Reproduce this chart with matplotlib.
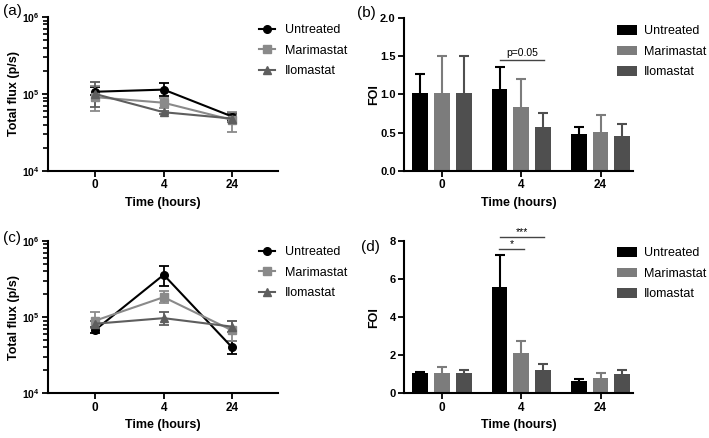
import matplotlib
matplotlib.use("Agg")
import matplotlib.pyplot as plt
from matplotlib.lines import Line2D
from matplotlib.ticker import LogLocator, NullFormatter
import numpy as np

plt.rcParams['font.family'] = ['Liberation Sans', 'DejaVu Sans']
plt.rcParams['mathtext.fontset'] = 'custom'
plt.rcParams['mathtext.rm'] = 'Liberation Sans:bold'
plt.rcParams['mathtext.bf'] = 'Liberation Sans:bold'
plt.rcParams['mathtext.default'] = 'bf'

# ---------------- data ----------------
groups = ["Untreated", "Marimastat", "Ilomastat"]
time_labels = ["0", "4", "24"]

# Panel (a): total flux (p/s), mean and lower/upper error ends
a_untreated = [1.07e5, 1.14e5, 5.1e4]
a_untreated_lo = [9.6e4, 9.4e4, 4.6e4]
a_untreated_hi = [1.22e5, 1.38e5, 5.7e4]
a_marimastat = [9.1e4, 7.7e4, 4.6e4]
a_marimastat_lo = [6.06e4, 6.6e4, 3.2e4]
a_marimastat_hi = [1.28e5, 8.9e4, 5.9e4]
a_ilomastat = [1.0e5, 5.8e4, 4.8e4]
a_ilomastat_lo = [6.8e4, 5.5e4, 4.3e4]
a_ilomastat_hi = [1.42e5, 6.1e4, 5.5e4]

# Panel (b): FOI, mean and upper error end
b_untreated = [1.01, 1.07, 0.48]
b_untreated_hi = [1.26, 1.36, 0.57]
b_marimastat = [1.01, 0.84, 0.51]
b_marimastat_hi = [1.50, 1.20, 0.73]
b_ilomastat = [1.01, 0.57, 0.46]
b_ilomastat_hi = [1.50, 0.75, 0.61]

# Panel (c): total flux (p/s)
c_untreated = [6.8e4, 3.6e5, 4.0e4]
c_untreated_lo = [6.2e4, 2.6e5, 3.3e4]
c_untreated_hi = [7.5e4, 4.7e5, 4.9e4]
c_marimastat = [9.0e4, 1.83e5, 6.7e4]
c_marimastat_lo = [7.2e4, 1.55e5, 4.8e4]
c_marimastat_hi = [1.16e5, 2.2e5, 8.8e4]
c_ilomastat = [8.2e4, 9.7e4, 7.5e4]
c_ilomastat_lo = [7.4e4, 7.9e4, 6.4e4]
c_ilomastat_hi = [9.0e4, 1.16e5, 9.0e4]

# Panel (d): FOI
d_untreated = [1.05, 5.6, 0.66]
d_untreated_hi = [1.12, 7.28, 0.75]
d_marimastat = [1.05, 2.1, 0.80]
d_marimastat_hi = [1.40, 2.75, 1.05]
d_ilomastat = [1.05, 1.25, 1.0]
d_ilomastat_hi = [1.25, 1.55, 1.22]

line_colors = ["#000000", "#8a8a8a", "#5e5e5e"]
line_markers = ["o", "s", "^"]
bar_colors = ["#000000", "#7c7c7c", "#4f4f4f"]

W, H = 709, 438
fig = plt.figure(figsize=(W / 100, H / 100), dpi=100)


def rect(l, r, t, b):
    return [l / W, 1 - b / H, (r - l) / W, (b - t) / H]


def style(ax, ylab_size):
    for s in ["top", "right"]:
        ax.spines[s].set_visible(False)
    for s in ["left", "bottom"]:
        ax.spines[s].set_linewidth(1.5)
    ax.tick_params(axis="both", which="major", length=4, width=1.3,
                   direction="out", pad=2)
    ax.tick_params(axis="x", which="major", labelsize=8.5)
    ax.tick_params(axis="y", which="major", labelsize=ylab_size)
    ax.tick_params(axis="y", which="minor", length=3.5, width=1.2)
    for lab in ax.get_xticklabels() + ax.get_yticklabels():
        lab.set_fontweight("bold")


def line_panel(ax, means, los, his, legend_top):
    x = np.arange(len(time_labels))
    handles = []
    for m, lo, hi, c, mk, name in zip(means, los, his, line_colors, line_markers, groups):
        m = np.array(m); lo = np.array(lo); hi = np.array(hi)
        ms = 5.5 if mk != "^" else 6
        ax.errorbar(x, m, yerr=[m - lo, hi - m], color=c, marker=mk,
                    markersize=ms, linewidth=1.5,
                    elinewidth=1.3, capsize=3.5, capthick=1.3, label=name)
        handles.append(Line2D([], [], color=c, marker=mk, markersize=ms, linewidth=1.5))
    ax.set_yscale("log")
    ax.set_ylim(1e4, 1e6)
    ax.set_xlim(-0.69, 2.67)
    ax.set_xticks(x)
    ax.set_xticklabels(time_labels)
    ax.set_yticks([1e4, 1e5, 1e6])
    ax.set_yticklabels([r"$10^{4}$", r"$10^{5}$", r"$10^{6}$"])
    ax.yaxis.set_minor_locator(LogLocator(base=10, subs=np.arange(2, 10)))
    ax.yaxis.set_minor_formatter(NullFormatter())
    ax.set_ylabel("Total flux (p/s)", fontsize=9, fontweight="bold")
    ax.yaxis.set_label_coords(-0.12, 0.5)
    ax.set_xlabel("Time (hours)", fontsize=9, fontweight="bold")
    ax.xaxis.set_label_coords(0.5, -0.17)
    style(ax, 7.5)
    fig.legend(handles=handles, labels=groups, loc="upper left",
               bbox_to_anchor=(259 / W, 1 - legend_top / H), frameon=False,
               fontsize=9, handlelength=1.3, handletextpad=0.75,
               labelspacing=0.68, borderpad=0, borderaxespad=0)


def bar_panel(ax, means, his, ylim, yticks, fmt, legend_top):
    x = np.arange(len(time_labels))
    width = 0.2
    offs = [-0.274, 0, 0.274]
    handles = []
    for m, hi, c, o, name in zip(means, his, bar_colors, offs, groups):
        m = np.array(m); hi = np.array(hi)
        b = ax.bar(x + o, m, width=width, color=c, label=name, zorder=2)
        ax.errorbar(x + o, m, yerr=[np.zeros_like(m), hi - m], fmt="none",
                    ecolor=c, elinewidth=1.5, capsize=0, zorder=1)
        ax.plot(x + o, hi, linestyle="none", marker="_", markersize=7.5,
                markeredgewidth=1.5, color=c, zorder=1)
        handles.append(b)
    ax.set_xlim(-0.48, 2.41)
    ax.set_ylim(*ylim)
    ax.set_xticks(x)
    ax.set_xticklabels(time_labels)
    ax.set_yticks(yticks)
    ax.set_yticklabels([fmt.format(v) for v in yticks])
    ax.set_ylabel("FOI", fontsize=9, fontweight="bold")
    ax.yaxis.set_label_coords(-0.105, 0.5)
    ax.set_xlabel("Time (hours)", fontsize=9, fontweight="bold")
    ax.xaxis.set_label_coords(0.5, -0.17)
    style(ax, 8)
    fig.legend(handles=handles, labels=groups, loc="upper left",
               bbox_to_anchor=(617 / W, 1 - legend_top / H), frameon=False,
               fontsize=9, handlelength=1.6, handleheight=0.8,
               handletextpad=0.55, labelspacing=0.68, borderpad=0,
               borderaxespad=0)


ax_a = fig.add_axes(rect(48, 278, 17, 171))
line_panel(ax_a, [a_untreated, a_marimastat, a_ilomastat],
           [a_untreated_lo, a_marimastat_lo, a_ilomastat_lo],
           [a_untreated_hi, a_marimastat_hi, a_ilomastat_hi], 24)

ax_b = fig.add_axes(rect(404, 633, 17.5, 171))
bar_panel(ax_b, [b_untreated, b_marimastat, b_ilomastat],
          [b_untreated_hi, b_marimastat_hi, b_ilomastat_hi],
          (0, 2.0), [0, 0.5, 1.0, 1.5, 2.0], "{:.1f}", 25)
ax_b.plot([0.73, 1.29], [1.44, 1.44], color="#444444", lw=1.0, clip_on=False)
ax_b.text(1.01, 1.47, "p=0.05", ha="center", va="bottom", fontsize=7.5)

ax_c = fig.add_axes(rect(48, 278, 241, 393.3))
line_panel(ax_c, [c_untreated, c_marimastat, c_ilomastat],
           [c_untreated_lo, c_marimastat_lo, c_ilomastat_lo],
           [c_untreated_hi, c_marimastat_hi, c_ilomastat_hi], 246)

ax_d = fig.add_axes(rect(404, 633, 241, 393.3))
bar_panel(ax_d, [d_untreated, d_marimastat, d_ilomastat],
          [d_untreated_hi, d_marimastat_hi, d_ilomastat_hi],
          (0, 8), [0, 2, 4, 6, 8], "{:d}", 247)
ax_d.plot([0.73, 1.29], [8.19, 8.19], color="#444444", lw=1.0, clip_on=False)
ax_d.text(1.01, 8.22, "***", ha="center", va="bottom", fontsize=7.5, clip_on=False)
ax_d.plot([0.72, 1.03], [7.56, 7.56], color="#444444", lw=1.0, clip_on=False)
ax_d.text(0.875, 7.59, "*", ha="center", va="bottom", fontsize=7.5, clip_on=False)

fig.text(3 / W, 1 - 11 / H, "(a)", fontsize=11, va="center", ha="left")
fig.text(357 / W, 1 - 13 / H, "(b)", fontsize=11, va="center", ha="left")
fig.text(3 / W, 1 - 238 / H, "(c)", fontsize=11, va="center", ha="left")
fig.text(361 / W, 1 - 247 / H, "(d)", fontsize=11, va="center", ha="left")

fig.savefig("out.png", dpi=100)
